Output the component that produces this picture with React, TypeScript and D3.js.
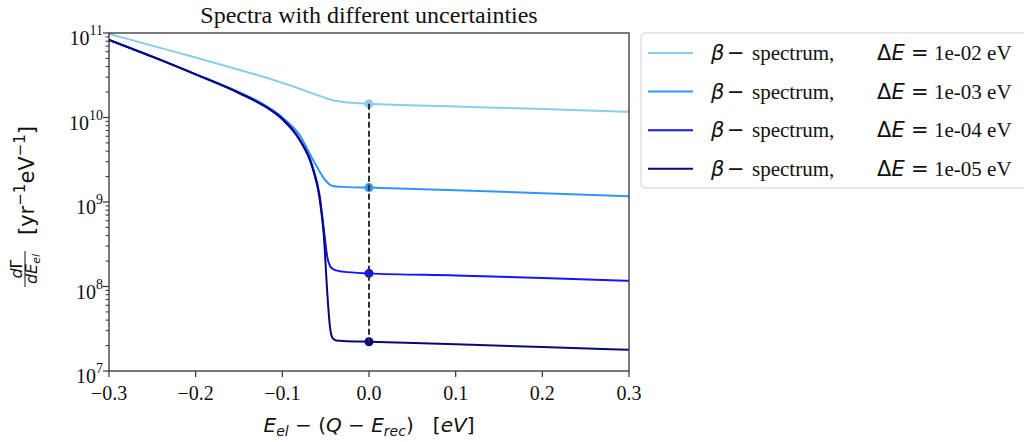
import React from "react";
import * as d3 from "d3";

// energy grid, E_el - (Q - E_rec) in eV
const energy = [
  -0.3, -0.25, -0.2, -0.15, -0.12, -0.1, -0.08, -0.065, -0.057, -0.052, -0.048,
  -0.045, -0.042, -0.038, -0.03, 0, 0.1, 0.2, 0.3,
];

// dGamma/dE_el, one array per resolution
const rate1e2 = [
  9.77e10, 7.08e10, 5.13e10, 3.67e10, 2.99e10, 2.57e10, 2.19e10, 1.93e10, 1.8e10, 1.73e10,
  1.67e10, 1.64e10, 1.6e10, 1.57e10, 1.53e10, 1.45e10, 1.35e10, 1.26e10, 1.17e10,
];
const rate1e3 = [
  8.3e10, 5.25e10, 3.26e10, 2.0e10, 1.4e10, 1.0e10, 6.2e9, 3.2e9, 2.3e9, 1.9e9,
  1.7e9, 1.6e9, 1.55e9, 1.53e9, 1.51e9, 1.48e9, 1.38e9, 1.27e9, 1.17e9,
];
const rate1e4 = [
  8.3e10, 5.25e10, 3.24e10, 1.96e10, 1.36e10, 9.8e9, 5.5e9, 2.6e9, 1.2e9, 4.6e8,
  2.2e8, 1.75e8, 1.62e8, 1.55e8, 1.5e8, 1.43e8, 1.35e8, 1.26e8, 1.17e8,
];
const rate1e5 = [
  8.3e10, 5.25e10, 3.24e10, 1.95e10, 1.35e10, 9.5e9, 5.4e9, 2.5e9, 1.1e9, 3.9e8,
  8e7, 3.3e7, 2.45e7, 2.3e7, 2.27e7, 2.22e7, 2.07e7, 1.92e7, 1.78e7,
];

const resolutions = ["1e-02", "1e-03", "1e-04", "1e-05"];
const colors = ["#87ceeb", "#2f95ff", "#1414ff", "#08087a"];
const seriesValues = [rate1e2, rate1e3, rate1e4, rate1e5];

const xTicks = [-0.3, -0.2, -0.1, 0.0, 0.1, 0.2, 0.3];
const yExponents = [7, 8, 9, 10, 11];

const serif = "'Liberation Serif', 'Times New Roman', serif";
const mathFont = "'DejaVu Sans', sans-serif";
const nb = "\u00a0";

export default function App() {
  const left = 109, right = 629, top = 33, bottom = 371;

  const x = d3.scaleLinear().domain([-0.3, 0.3]).range([left, right]);
  const y = d3.scaleLog().domain([1e7, 1e11]).range([bottom, top]);

  const line = d3
    .line<[number, number]>()
    .x((d) => x(d[0]))
    .y((d) => y(d[1]))
    .curve(d3.curveMonotoneX);

  const i0 = energy.indexOf(0);
  const minor: number[] = [];
  yExponents.slice(0, -1).forEach((e) => {
    for (let k = 2; k < 10; k++) minor.push(k * Math.pow(10, e));
  });

  const fmtX = (v: number) => (v < 0 ? "\u2212" : "") + Math.abs(v).toFixed(1);

  return (
    <svg
      width={1024}
      height={442}
      style={{ position: "absolute", left: 0, top: 0, background: "#fff" }}
    >
      <defs>
        <clipPath id="plot">
          <rect x={left} y={top} width={right - left} height={bottom - top} />
        </clipPath>
      </defs>

      {/* title */}
      <text x={(left + right) / 2} y={23} textAnchor="middle" fontFamily={serif} fontSize={24} fill="#111">
        Spectra with different uncertainties
      </text>

      {/* curves */}
      <g clipPath="url(#plot)">
        {seriesValues.map((vals, i) => (
          <path
            key={i}
            d={line(energy.map((e, j) => [e, vals[j]] as [number, number])) || ""}
            fill="none"
            stroke={colors[i]}
            strokeWidth={2}
          />
        ))}
        {seriesValues.map((vals, i) => (
          <circle key={"c" + i} cx={x(0)} cy={y(vals[i0])} r={4.5} fill={colors[i]} />
        ))}
        <line
          x1={x(0)}
          x2={x(0)}
          y1={y(rate1e2[i0])}
          y2={y(rate1e5[i0])}
          stroke="#333"
          strokeWidth={2}
          strokeDasharray="6,3"
        />
      </g>

      {/* frame */}
      <rect x={left} y={top} width={right - left} height={bottom - top} fill="none" stroke="#333" strokeWidth={1.3} />

      {/* x axis */}
      {xTicks.map((t) => (
        <g key={t}>
          <line x1={x(t)} x2={x(t)} y1={bottom} y2={bottom + 6} stroke="#333" strokeWidth={1.2} />
          <text x={x(t)} y={400} textAnchor="middle" fontFamily={serif} fontSize={20} fill="#111">
            {fmtX(t)}
          </text>
        </g>
      ))}

      {/* y axis */}
      {minor.map((m) => (
        <line key={m} x1={left - 3.5} x2={left} y1={y(m)} y2={y(m)} stroke="#333" strokeWidth={1} />
      ))}
      {yExponents.map((e) => {
        const v = Math.pow(10, e);
        return (
          <g key={e}>
            <line x1={left - 6} x2={left} y1={y(v)} y2={y(v)} stroke="#333" strokeWidth={1.2} />
            <text x={103} y={y(v) + 12} textAnchor="end" fontFamily={serif} fontSize={20} fill="#111">
              10
              <tspan dy={-10} fontSize={14}>
                {e}
              </tspan>
            </text>
          </g>
        );
      })}

      {/* x label */}
      <text x={(left + right) / 2} y={432} textAnchor="middle" fontFamily={mathFont} fontSize={20} fill="#111">
        <tspan fontStyle="italic">E</tspan>
        <tspan dy={4} fontSize={14} fontStyle="italic">el</tspan>
        <tspan dy={-4}>{nb}{"\u2212"}{nb}(</tspan>
        <tspan fontStyle="italic">Q</tspan>
        <tspan>{nb}{"\u2212"}{nb}</tspan>
        <tspan fontStyle="italic">E</tspan>
        <tspan dy={4} fontSize={14} fontStyle="italic">rec</tspan>
        <tspan dy={-4}>){nb}{nb}{nb}[</tspan>
        <tspan fontStyle="italic">eV</tspan>
        <tspan>]</tspan>
      </text>

      {/* y label */}
      <g transform="translate(0,205) rotate(-90)">
        <text x={-64} y={22} textAnchor="middle" fontFamily={mathFont} fontSize={16} fill="#111">
          <tspan fontStyle="italic">d</tspan>
          <tspan>Γ</tspan>
        </text>
        <line x1={-82} x2={-46} y1={25} y2={25} stroke="#111" strokeWidth={1} />
        <text x={-64} y={37} textAnchor="middle" fontFamily={mathFont} fontSize={16} fill="#111">
          <tspan fontStyle="italic">dE</tspan>
          <tspan dy={3} fontSize={11} fontStyle="italic">el</tspan>
        </text>
        <text x={-30} y={34} fontFamily={mathFont} fontSize={21} fill="#111">
          [yr
          <tspan dy={-9} fontSize={15}>{"\u2212"}1</tspan>
          <tspan dy={9}>eV</tspan>
          <tspan dy={-9} fontSize={15}>{"\u2212"}1</tspan>
          <tspan dy={9}>]</tspan>
        </text>
      </g>

      {/* legend */}
      <rect x={641} y={33} width={400} height={155} rx={4} fill="#fff" stroke="#d0d0d0" strokeWidth={1} />
      {resolutions.map((r, i) => {
        const cy = 53 + i * 38.6;
        return (
          <g key={r}>
            <line x1={648} x2={693} y1={cy} y2={cy} stroke={colors[i]} strokeWidth={2} />
            <text y={cy + 7} fontSize={21} fill="#111">
              <tspan x={711} fontFamily={mathFont} fontStyle="italic">β</tspan>
              <tspan x={727} fontFamily={mathFont}>{"\u2212"}</tspan>
              <tspan x={752} fontFamily={serif}>spectrum,</tspan>
              <tspan x={877} fontFamily={mathFont}>Δ</tspan>
              <tspan fontFamily={mathFont} fontStyle="italic">E</tspan>
              <tspan x={911} fontFamily={mathFont}>=</tspan>
              <tspan x={934} fontFamily={serif}>{r} eV</tspan>
            </text>
          </g>
        );
      })}
    </svg>
  );
}
